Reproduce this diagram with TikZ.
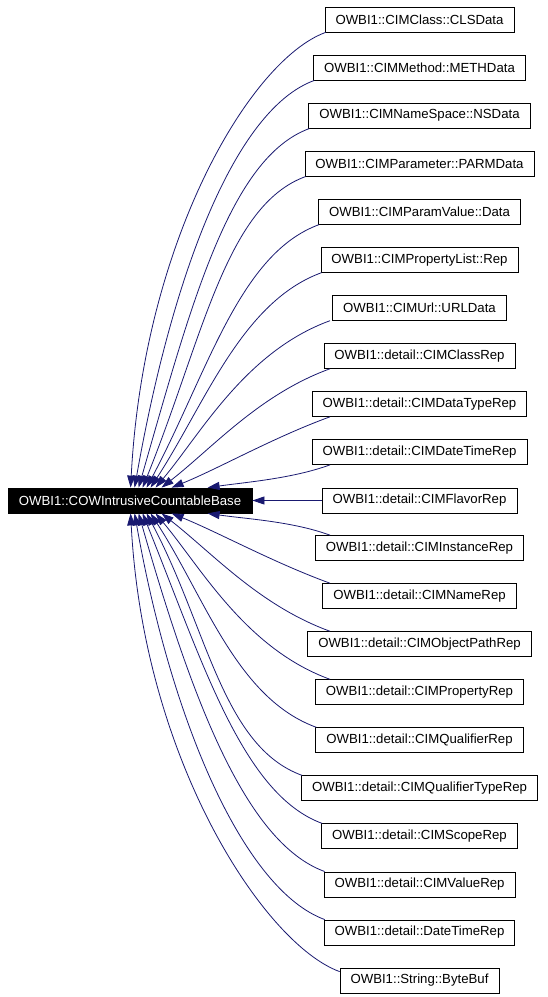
\documentclass[tikz,border=0pt]{standalone}
\usepackage{fontspec}
\setmainfont{Liberation Sans}
\usetikzlibrary{arrows.meta,calc}
\definecolor{edgeblue}{HTML}{191970}
\newcommand\upedge[5]{\draw[inh] (#1) .. controls +(200:#2) and +(#3:#4) .. ($(base.north west)+(#5,0)$);}
\newcommand\downedge[5]{\draw[inh] (#1) .. controls +(160:#2) and +(-#3:#4) .. ($(base.south west)+(#5,0)$);}
\begin{document}
\begin{tikzpicture}[x=1pt,y=1pt,
  cls/.style={draw=black, line width=0.8pt, fill=white, minimum height=25pt,
    inner xsep=10.5pt, inner ysep=0pt, font=\fontsize{13.2}{15}\selectfont},
  basecls/.style={cls, fill=black, text=white, minimum width=244pt, inner xsep=0pt},
  inh/.style={draw=edgeblue, line width=0.8pt, -{Triangle[length=12pt,width=8pt,fill=edgeblue]}}]
\useasboundingbox (0,0) rectangle (547,-997);
\node[basecls] (base) at (130,-500.5) {OWBI1::COWIntrusiveCountableBase};
\node[cls] (n1) at (419.5,-19.5) {OWBI1::CIMClass::CLSData};
\node[cls] (n2) at (419.5,-67.55) {OWBI1::CIMMethod::METHData};
\node[cls] (n3) at (419.5,-115.6) {OWBI1::CIMNameSpace::NSData};
\node[cls] (n4) at (419.5,-163.65) {OWBI1::CIMParameter::PARMData};
\node[cls] (n5) at (419.5,-211.7) {OWBI1::CIMParamValue::Data};
\node[cls] (n6) at (419.5,-259.75) {OWBI1::CIMPropertyList::Rep};
\node[cls] (n7) at (419.5,-307.8) {OWBI1::CIMUrl::URLData};
\node[cls] (n8) at (419.5,-355.85) {OWBI1::detail::CIMClassRep};
\node[cls] (n9) at (419.5,-403.9) {OWBI1::detail::CIMDataTypeRep};
\node[cls] (n10) at (419.5,-451.95) {OWBI1::detail::CIMDateTimeRep};
\node[cls] (n11) at (419.5,-500.5) {OWBI1::detail::CIMFlavorRep};
\node[cls] (n12) at (419.5,-548.05) {OWBI1::detail::CIMInstanceRep};
\node[cls] (n13) at (419.5,-596.1) {OWBI1::detail::CIMNameRep};
\node[cls] (n14) at (419.5,-644.15) {OWBI1::detail::CIMObjectPathRep};
\node[cls] (n15) at (419.5,-692.2) {OWBI1::detail::CIMPropertyRep};
\node[cls] (n16) at (419.5,-740.25) {OWBI1::detail::CIMQualifierRep};
\node[cls] (n17) at (419.5,-788.3) {OWBI1::detail::CIMQualifierTypeRep};
\node[cls] (n18) at (419.5,-836.35) {OWBI1::detail::CIMScopeRep};
\node[cls] (n19) at (419.5,-884.4) {OWBI1::detail::CIMValueRep};
\node[cls] (n20) at (419.5,-932.45) {OWBI1::detail::DateTimeRep};
\node[cls] (n21) at (419.5,-980.5) {OWBI1::String::ByteBuf};
\coordinate (xc) at (330,0);
% start points
\coordinate (s1) at ($(n1.south west)+(1,0)$);
\coordinate (s2) at ($(n2.south west)+(1,0)$);
\coordinate (s3) at ($(n3.south west)+(1,0)$);
\coordinate (s4) at ($(n4.south west)+(1,0)$);
\coordinate (s5) at ($(n5.south west)+(1,0)$);
\coordinate (s6) at ($(n6.south west)+(1,0)$);
\coordinate (s7) at (n7.south west -| xc);
\coordinate (s8) at (n8.south west -| xc);
\coordinate (s9) at (n9.south west -| xc);
\coordinate (s10) at (n10.south west -| xc);
\coordinate (s12) at (n12.north west -| xc);
\coordinate (s13) at (n13.north west -| xc);
\coordinate (s14) at (n14.north west -| xc);
\coordinate (s15) at (n15.north west -| xc);
\coordinate (s16) at ($(n16.north west)+(1,0)$);
\coordinate (s17) at ($(n17.north west)+(1,0)$);
\coordinate (s18) at ($(n18.north west)+(1,0)$);
\coordinate (s19) at ($(n19.north west)+(1,0)$);
\coordinate (s20) at ($(n20.north west)+(1,0)$);
\coordinate (s21) at ($(n21.north west)+(0,-4)$);
% upper edges
\upedge{s1}{80}{87}{248}{123}
\upedge{s2}{85}{80}{215}{127}
\upedge{s3}{85}{74}{190}{131}
\upedge{s4}{85}{68}{160}{135}
\upedge{s5}{85}{62}{130}{139}
\upedge{s6}{85}{57}{100}{143}
\upedge{s7}{90}{50}{70}{148}
\upedge{s8}{75}{38}{65}{154}
\upedge{s9}{60}{22}{50}{164}
\upedge{s10}{40}{8}{40}{200}
% middle edge
\draw[inh] (n11.west) -- (base.east);
% lower edges
\downedge{s12}{40}{8}{40}{200}
\downedge{s13}{60}{22}{50}{164}
\downedge{s14}{75}{38}{65}{154}
\downedge{s15}{90}{50}{70}{148}
\downedge{s16}{85}{57}{100}{143}
\downedge{s17}{85}{62}{130}{139}
\downedge{s18}{85}{68}{160}{135}
\downedge{s19}{85}{74}{190}{131}
\downedge{s20}{85}{80}{215}{127}
\downedge{s21}{80}{87}{248}{123}
\end{tikzpicture}
\end{document}
